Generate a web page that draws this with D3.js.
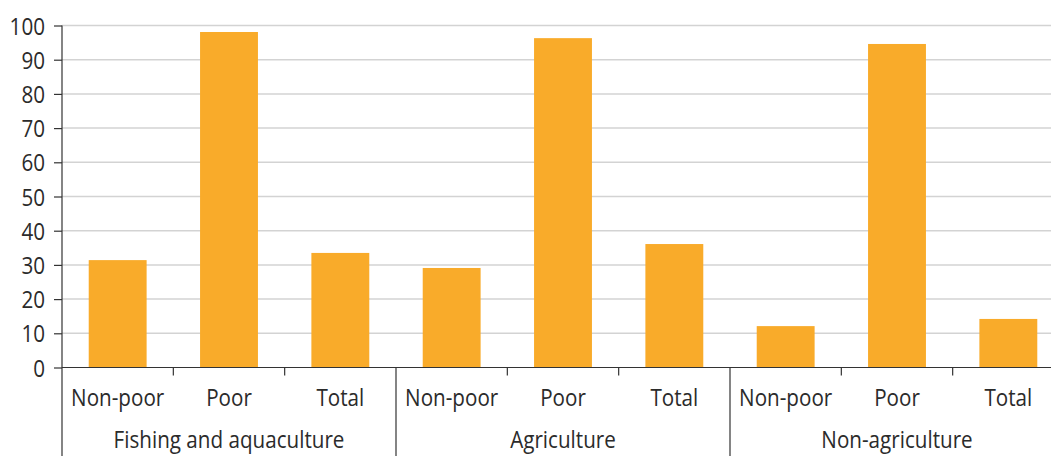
<!DOCTYPE html>
<html>
<head>
<meta charset="utf-8">
<script src="https://cdn.jsdelivr.net/npm/d3@7"></script>
<style>
  html, body { margin: 0; padding: 0; background: #fff; }
  svg { display: block; }
  text { font-family: "Open Sans", "Noto Sans", sans-serif; fill: #2b2b2b; }
</style>
</head>
<body>
<svg id="chart" width="1051" height="456"></svg>
<script>
// Sector groups and household status within each
const groups = ["Fishing and aquaculture", "Agriculture", "Non-agriculture"];
const statuses = ["Non-poor", "Poor", "Total"];
// Share (%) per status, one array per group
const fishingValues = [31.4, 98.1, 33.5];
const agricultureValues = [29.1, 96.3, 36.1];
const nonAgricultureValues = [12.1, 94.6, 14.2];
const yTicks = [0, 10, 20, 30, 40, 50, 60, 70, 80, 90, 100];

const groupValues = [fishingValues, agricultureValues, nonAgricultureValues];
const rows = [];
groups.forEach((g, gi) => statuses.forEach((s, si) => {
  rows.push({ key: g + "|" + s, group: g, status: s, value: groupValues[gi][si] });
}));

const svg = d3.select("#chart");
const plotLeft = 62, plotRight = 1064, plotTop = 25.5, plotBottom = 367.5;
const fontSize = 24, squeeze = 0.86;   // condensed look for all labels

const x = d3.scaleBand().domain(rows.map(d => d.key)).range([plotLeft, plotRight]).paddingInner(0).paddingOuter(0);
const y = d3.scaleLinear().domain([0, 100]).range([plotBottom, plotTop]);
const barW = x.bandwidth() * 0.52;

// horizontal gridlines
svg.append("g").selectAll("line").data(yTicks.filter(t => t > 0)).join("line")
  .attr("x1", plotLeft).attr("x2", 1051)
  .attr("y1", d => y(d)).attr("y2", d => y(d))
  .attr("stroke", "#d3d3d3").attr("stroke-width", 1.5);

// bars
svg.append("g").selectAll("rect").data(rows).join("rect")
  .attr("x", d => x(d.key) + (x.bandwidth() - barW) / 2)
  .attr("width", barW)
  .attr("y", d => y(d.value))
  .attr("height", d => y(0) - y(d.value))
  .attr("fill", "#f9ab2a");

// y axis
const yAxis = svg.append("g").attr("transform", `translate(${plotLeft},0)`)
  .call(d3.axisLeft(y).tickValues(yTicks).tickSize(8).tickPadding(0));
yAxis.select(".domain").remove();
yAxis.selectAll(".tick line").attr("stroke", "#333").attr("stroke-width", 1.2);
yAxis.selectAll(".tick text")
  .attr("x", 0).attr("dy", null).attr("y", 0)
  .attr("transform", `translate(-17,8.5) scale(${squeeze},1)`)
  .attr("font-size", fontSize).attr("fill", "#2b2b2b")
  .style("font-family", '"Open Sans", sans-serif');
svg.append("line").attr("x1", plotLeft).attr("x2", plotLeft).attr("y1", plotTop).attr("y2", 456)
  .attr("stroke", "#333").attr("stroke-width", 1.2);

// x baseline
svg.append("line").attr("x1", plotLeft).attr("x2", 1051).attr("y1", plotBottom).attr("y2", plotBottom)
  .attr("stroke", "#333").attr("stroke-width", 1.2);

// tick marks between categories, full-height separators between groups
const boundaries = d3.range(1, rows.length).map(i => x(rows[i].key));
svg.append("g").selectAll("line").data(boundaries).join("line")
  .attr("x1", d => d).attr("x2", d => d)
  .attr("y1", plotBottom)
  .attr("y2", (d, i) => ((i + 1) % statuses.length === 0) ? 456 : plotBottom + 8)
  .attr("stroke", "#333").attr("stroke-width", 1.2);

// category labels
svg.append("g").selectAll("text").data(rows).join("text")
  .attr("transform", d => `translate(${x(d.key) + x.bandwidth() / 2},405.5) scale(${squeeze},1)`)
  .attr("text-anchor", "middle")
  .attr("font-size", fontSize)
  .text(d => d.status);

// group labels
svg.append("g").selectAll("text").data(groups).join("text")
  .attr("transform", g => {
    const ks = rows.filter(r => r.group === g).map(r => x(r.key));
    const cx = (d3.min(ks) + d3.max(ks) + x.bandwidth()) / 2;
    return `translate(${cx},448) scale(${squeeze},1)`;
  })
  .attr("text-anchor", "middle")
  .attr("font-size", fontSize)
  .text(g => g);
</script>
</body>
</html>
